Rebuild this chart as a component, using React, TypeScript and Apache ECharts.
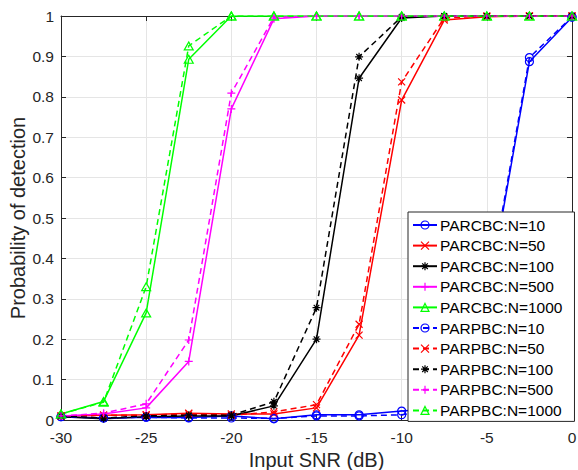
import React, { useEffect, useRef } from "react";
import * as echarts from "echarts";

const snr = [-30, -27.5, -25, -22.5, -20, -17.5, -15, -12.5, -10, -7.5, -5, -2.5, 0];

const cbc10 = [0.008, 0.005, 0.007, 0.006, 0.01, 0.003, 0.013, 0.013, 0.022, 0.03, 0.29, 0.887, 0.997];
const cbc50 = [0.01, 0.012, 0.013, 0.017, 0.015, 0.015, 0.03, 0.21, 0.792, 0.99, 0.998, 1, 1];
const cbc100 = [0.008, 0.003, 0.008, 0.01, 0.01, 0.035, 0.2, 0.846, 0.995, 1, 1, 1, 1];
const cbc500 = [0.01, 0.015, 0.03, 0.145, 0.77, 0.993, 1, 1, 1, 1, 1, 1, 1];
const cbc1000 = [0.015, 0.046, 0.265, 0.893, 1, 1, 1, 1, 1, 1, 1, 1, 1];

const pbc10 = [0.008, 0.005, 0.007, 0.005, 0.005, 0.004, 0.01, 0.01, 0.013, 0.03, 0.3, 0.897, 0.998];
const pbc50 = [0.01, 0.012, 0.012, 0.015, 0.012, 0.02, 0.038, 0.237, 0.837, 0.995, 1, 1, 1];
const pbc100 = [0.01, 0.005, 0.01, 0.012, 0.012, 0.045, 0.278, 0.899, 0.998, 1, 1, 1, 1];
const pbc500 = [0.01, 0.017, 0.04, 0.198, 0.809, 0.997, 1, 1, 1, 1, 1, 1, 1];
const pbc1000 = [0.015, 0.044, 0.33, 0.926, 1, 1, 1, 1, 1, 1, 1, 1, 1];

const seriesNames = [
  "PARCBC:N=10", "PARCBC:N=50", "PARCBC:N=100", "PARCBC:N=500", "PARCBC:N=1000",
  "PARPBC:N=10", "PARPBC:N=50", "PARPBC:N=100", "PARPBC:N=500", "PARPBC:N=1000",
];
const seriesData = [cbc10, cbc50, cbc100, cbc500, cbc1000, pbc10, pbc50, pbc100, pbc500, pbc1000];

const COLORS = ["#0000ff", "#ff0000", "#000000", "#ff00ff", "#00ff00"];
const SYMBOLS = [
  "path://M8 4A4 4 0 1 1 0 4A4 4 0 1 1 8 4Z",
  "path://M0 0L7 7M7 0L0 7",
  "path://M0 4L8 4M4 0L4 8M1.2 1.2L6.8 6.8M6.8 1.2L1.2 6.8",
  "path://M4 0L4 8M0 4L8 4",
  "path://M4 0L8 7L0 7Z",
];
const SYMBOL_SIZES: [number, number][] = [[8, 8], [7, 7], [8, 8], [8, 8], [9, 8]];

const FONT = "'Liberation Sans', Arial, Helvetica, sans-serif";
const AXIS_COLOR = "#262626";

export default function App() {
  const ref = useRef<HTMLDivElement>(null);

  useEffect(() => {
    if (!ref.current) return;
    const chart = echarts.init(ref.current, undefined, { renderer: "svg" });

    const series = seriesNames.map((name, i) => {
      const k = i % 5;
      const dashed = i >= 5;
      return {
        name,
        type: "line",
        data: snr.map((x, j) => [x, seriesData[i][j]]),
        symbol: SYMBOLS[k],
        symbolSize: SYMBOL_SIZES[k],
        showSymbol: true,
        showAllSymbol: true,
        lineStyle: {
          color: COLORS[k],
          width: 1.5,
          type: dashed ? [6, 4] : "solid",
        },
        itemStyle: {
          color: "transparent",
          borderColor: COLORS[k],
          borderWidth: 1.2,
        },
        emphasis: { disabled: true },
        z: 2,
      };
    });

    const axisLine = { show: true, onZero: false, lineStyle: { color: AXIS_COLOR, width: 1 } };
    const tick = { show: true, inside: true, length: 5, lineStyle: { color: AXIS_COLOR, width: 1 } };

    chart.setOption({
      animation: false,
      backgroundColor: "#ffffff",
      textStyle: { fontFamily: FONT },
      grid: { left: 61, right: 6, top: 16, bottom: 50, containLabel: false, outerBoundsMode: "none" },
      xAxis: [
        {
          type: "value",
          min: -30,
          max: 0,
          interval: 5,
          position: "bottom",
          axisLine,
          axisTick: tick,
          axisLabel: { color: AXIS_COLOR, fontSize: 15.5, fontFamily: FONT, margin: 9 },
          splitLine: { show: true, lineStyle: { color: "#e5e5e5", width: 1 } },
          name: "Input SNR (dB)",
          nameLocation: "middle",
          nameGap: 30,
          nameTextStyle: { color: AXIS_COLOR, fontSize: 20, fontFamily: FONT },
        },
        {
          type: "value",
          min: -30,
          max: 0,
          interval: 5,
          position: "top",
          axisLine,
          axisTick: tick,
          axisLabel: { show: false },
          splitLine: { show: false },
        },
      ],
      yAxis: [
        {
          type: "value",
          min: 0,
          max: 1,
          interval: 0.1,
          position: "left",
          axisLine,
          axisTick: tick,
          axisLabel: { color: AXIS_COLOR, fontSize: 15.5, fontFamily: FONT, margin: 7 },
          splitLine: { show: true, lineStyle: { color: "#e5e5e5", width: 1 } },
          name: "Probability of detection",
          nameLocation: "middle",
          nameGap: 35,
          nameMoveOverlap: false,
          nameTextStyle: { color: AXIS_COLOR, fontSize: 20, fontFamily: FONT, lineHeight: 16 },
        },
        {
          type: "value",
          min: 0,
          max: 1,
          interval: 0.1,
          position: "right",
          axisLine,
          axisTick: tick,
          axisLabel: { show: false },
          splitLine: { show: false },
        },
      ],
      legend: {
        show: true,
        orient: "vertical",
        left: 408,
        top: 212,
        padding: [5, 12, 3, 4],
        itemGap: 4.6,
        itemWidth: 24,
        itemHeight: 10,
        backgroundColor: "#ffffff",
        borderColor: AXIS_COLOR,
        borderWidth: 1,
        borderRadius: 0,
        textStyle: { color: "#000000", fontSize: 15.5, fontFamily: FONT, lineHeight: 14, padding: [0, 0, 0, -2] },
        itemStyle: { borderWidth: 1.2 },
        data: seriesNames,
        selectedMode: false,
      },
      series,
    });

    return () => chart.dispose();
  }, []);

  return (
    <div
      ref={ref}
      style={{ position: "fixed", left: 0, top: 0, width: 578, height: 470, background: "#fff" }}
    />
  );
}
